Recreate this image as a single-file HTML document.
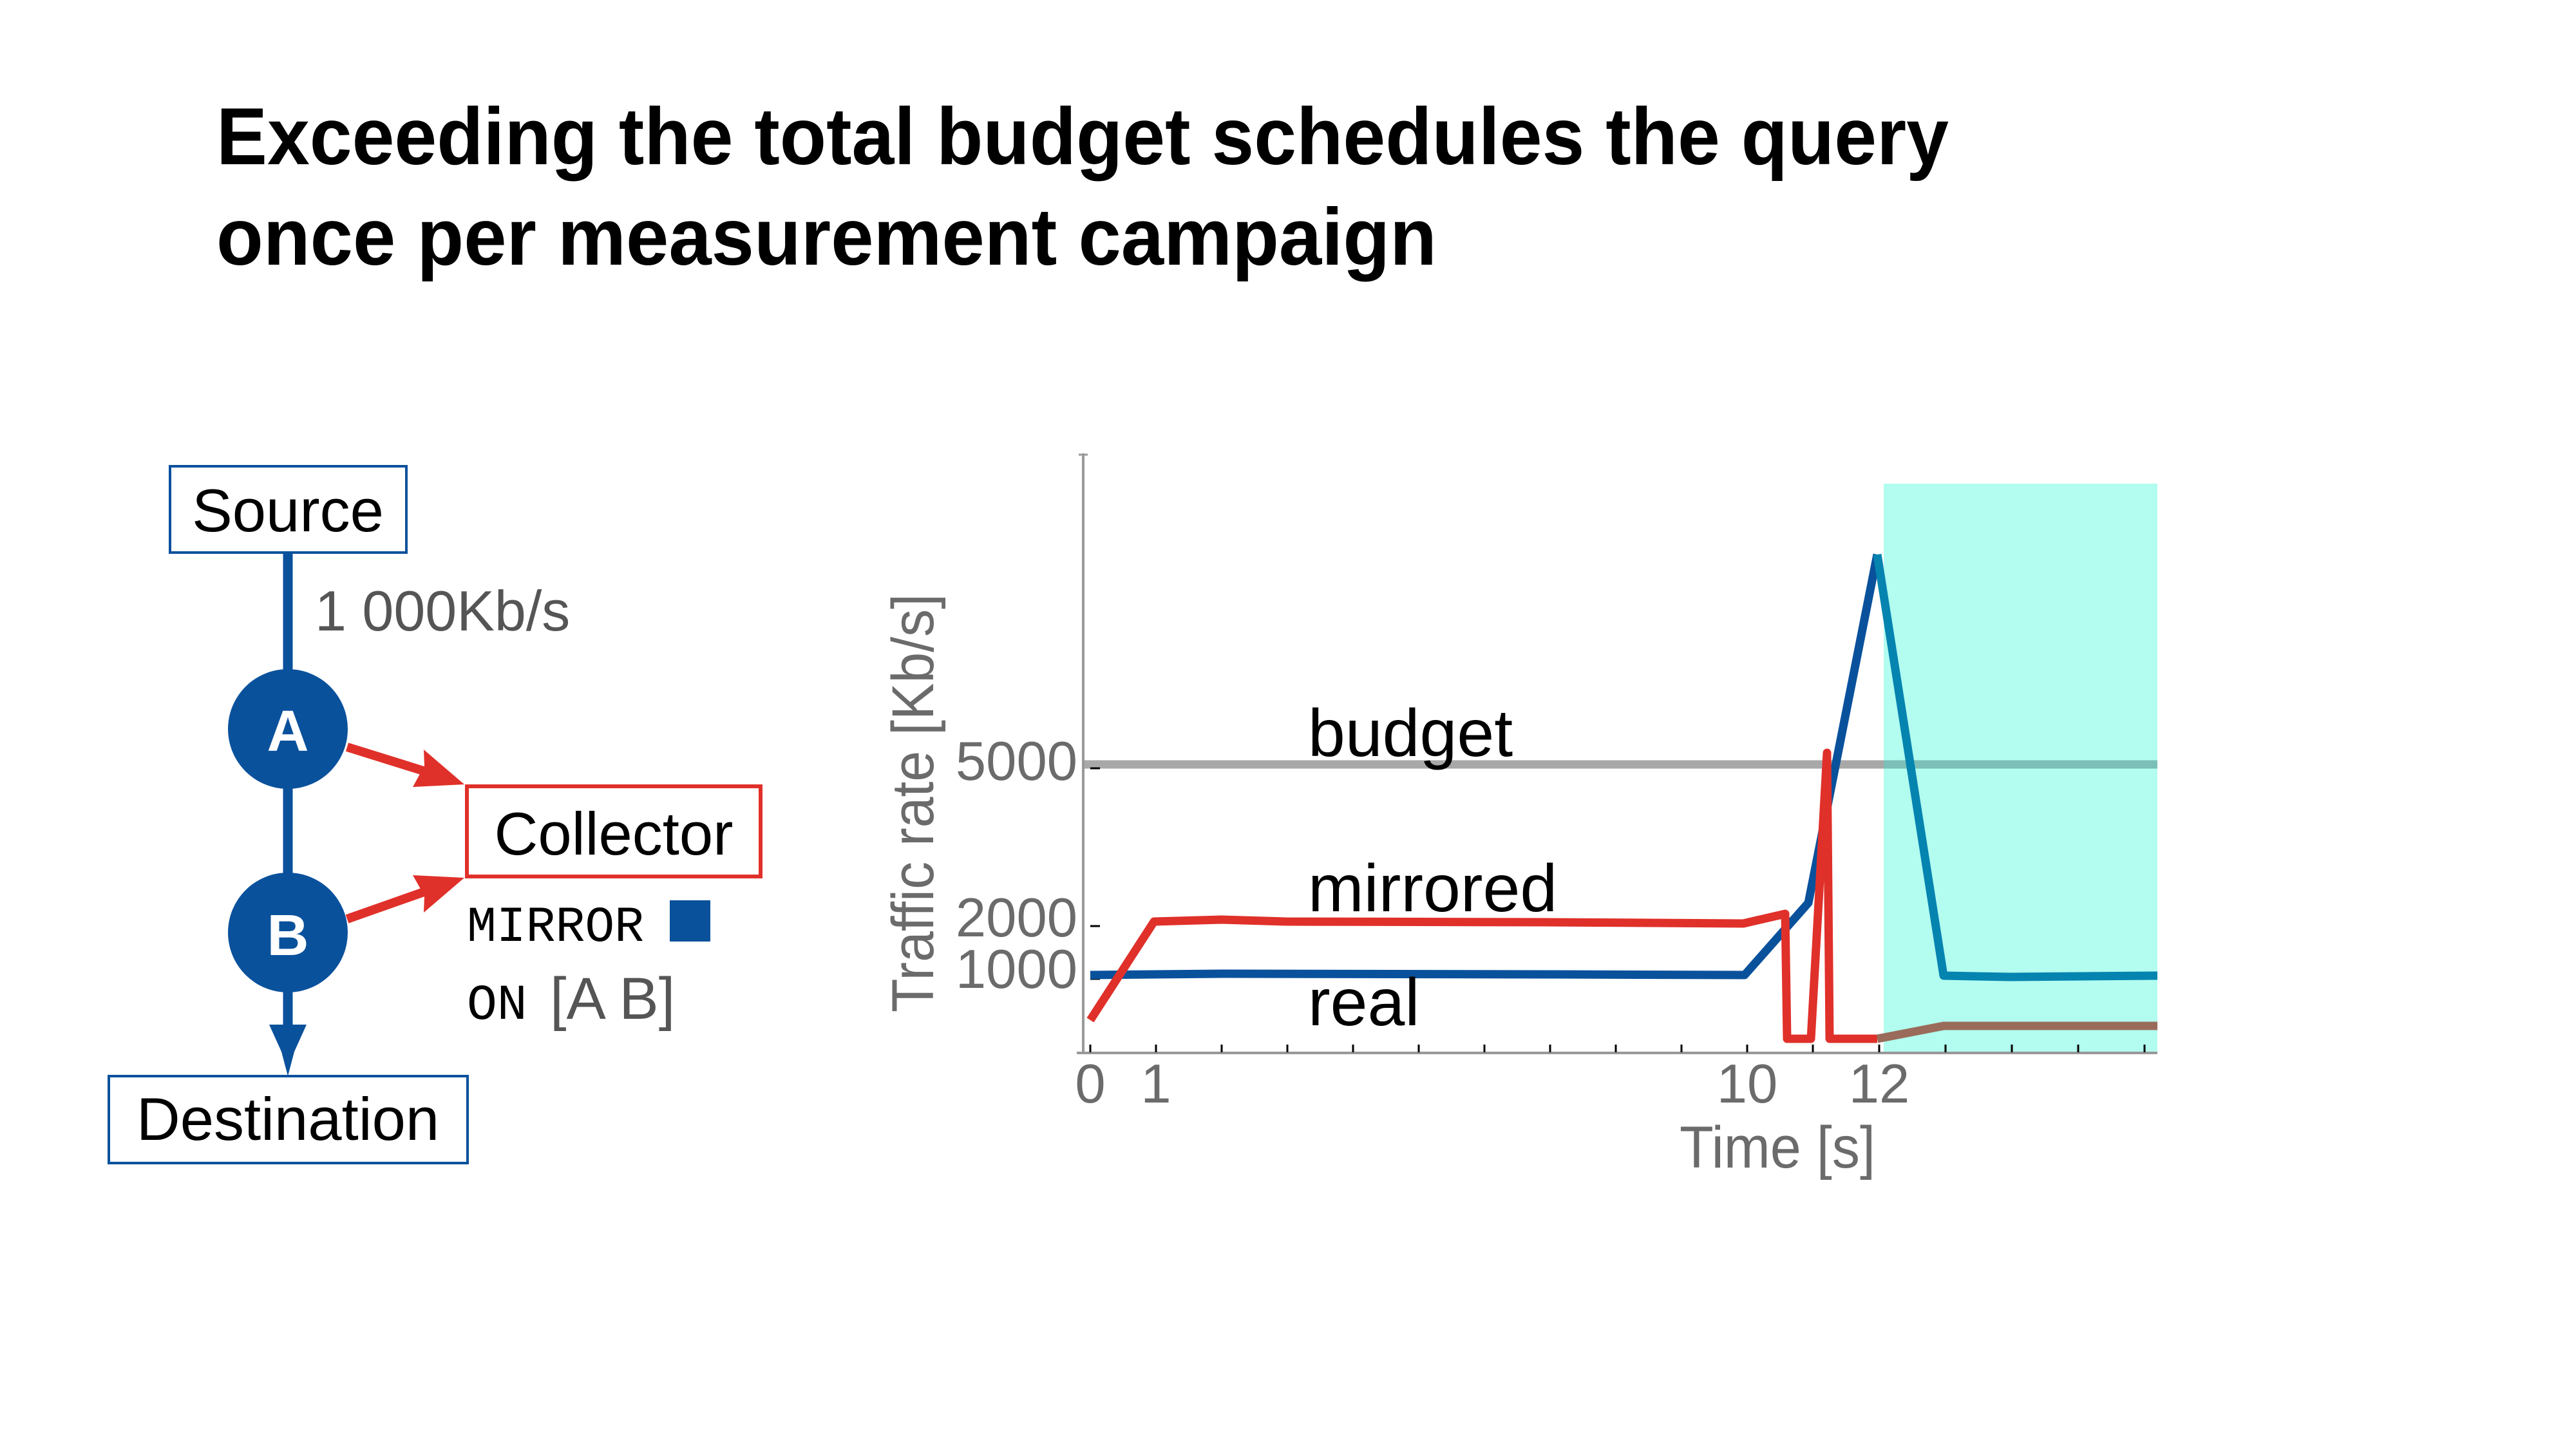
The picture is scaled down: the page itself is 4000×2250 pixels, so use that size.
<!DOCTYPE html>
<html><head><meta charset="utf-8"><style>
html,body{margin:0;padding:0;background:#fff;}
svg{display:block;}
text{font-family:"Liberation Sans",sans-serif;}
</style></head><body>
<svg width="4000" height="2250" viewBox="0 0 4000 2250" xmlns="http://www.w3.org/2000/svg">
<rect width="4000" height="2250" fill="#fff"/>
<!-- Title -->
<text x="336" y="255" font-size="125" font-weight="bold" fill="#000" textLength="2690" lengthAdjust="spacingAndGlyphs">Exceeding the total budget schedules the query</text>
<text x="336" y="411" font-size="125" font-weight="bold" fill="#000" textLength="1895" lengthAdjust="spacingAndGlyphs">once per measurement campaign</text>

<g transform="translate(-6,-7)">
<!-- Left diagram -->
<line x1="453" y1="865" x2="453" y2="1640" stroke="#0a519c" stroke-width="15"/>
<polygon points="424,1598 482,1598 463,1640 453,1678 443,1640" fill="#0a519c"/>
<rect x="270" y="731" width="367" height="134" fill="#fff" stroke="#0a519c" stroke-width="4"/>
<text x="453" y="832" font-size="94" text-anchor="middle" fill="#000">Source</text>
<text x="495" y="986" font-size="88" fill="#555">1 000Kb/s</text>
<circle cx="453" cy="1139" r="93" fill="#0a519c"/>
<text x="453" y="1173" font-size="90" font-weight="bold" text-anchor="middle" fill="#fff">A</text>
<circle cx="453" cy="1455" r="93" fill="#0a519c"/>
<text x="453" y="1490" font-size="90" font-weight="bold" text-anchor="middle" fill="#fff">B</text>
<line x1="545" y1="1167" x2="670" y2="1206" stroke="#e0302a" stroke-width="14"/>
<polygon points="727,1225 647,1229 665,1196 664,1171" fill="#e0302a"/>
<line x1="545" y1="1434" x2="670" y2="1390" stroke="#e0302a" stroke-width="14"/>
<polygon points="727,1370 647,1366 665,1398 664,1424" fill="#e0302a"/>
<rect x="731" y="1228" width="456" height="140" fill="#fff" stroke="#e0302a" stroke-width="6"/>
<text x="959" y="1334" font-size="94" text-anchor="middle" fill="#000">Collector</text>
<text x="731" y="1468" font-size="78" fill="#000" textLength="275" lengthAdjust="spacingAndGlyphs" style="font-family:'Liberation Mono',monospace">MIRROR</text>
<rect x="1046" y="1405" width="63" height="64" fill="#0a519c"/>
<text x="731" y="1589" font-size="78" fill="#000" style="font-family:'Liberation Mono',monospace">ON</text>
<text x="860" y="1589" font-size="92" fill="#555">[A B]</text>
<rect x="175" y="1678" width="557" height="135" fill="#fff" stroke="#0a519c" stroke-width="4"/>
<text x="453" y="1777" font-size="94" text-anchor="middle" fill="#000">Destination</text>
</g>

<!-- Chart -->
<g transform="translate(-3,-6)">
<rect x="2928" y="757" width="425" height="882" fill="#b2fcf0"/>
<line x1="1685" y1="1193" x2="2928" y2="1193" stroke="#a8a8a8" stroke-width="13"/>
<line x1="2928" y1="1193" x2="3353" y2="1193" stroke="#7bbfb8" stroke-width="13"/>
</g>
<!-- axes -->
<line x1="1682" y1="704" x2="1682" y2="1636" stroke="#999" stroke-width="4"/>
<line x1="1675" y1="706" x2="1689" y2="706" stroke="#999" stroke-width="3"/>
<line x1="1672" y1="1635" x2="3350" y2="1635" stroke="#999" stroke-width="4"/>
<g stroke="#000" stroke-width="3">
<line x1="1693" y1="1193" x2="1708" y2="1193"/>
<line x1="1693" y1="1438" x2="1708" y2="1438"/>
<line x1="1693" y1="1520" x2="1708" y2="1520"/>
<line x1="1693" y1="1622" x2="1693" y2="1634"/><line x1="1795" y1="1622" x2="1795" y2="1634"/><line x1="1897" y1="1622" x2="1897" y2="1634"/><line x1="1999" y1="1622" x2="1999" y2="1634"/><line x1="2101" y1="1622" x2="2101" y2="1634"/><line x1="2203" y1="1622" x2="2203" y2="1634"/><line x1="2305" y1="1622" x2="2305" y2="1634"/><line x1="2407" y1="1622" x2="2407" y2="1634"/><line x1="2509" y1="1622" x2="2509" y2="1634"/><line x1="2611" y1="1622" x2="2611" y2="1634"/><line x1="2713" y1="1622" x2="2713" y2="1634"/><line x1="2815" y1="1622" x2="2815" y2="1634"/><line x1="2918" y1="1622" x2="2918" y2="1634"/><line x1="3021" y1="1622" x2="3021" y2="1634"/><line x1="3124" y1="1622" x2="3124" y2="1634"/><line x1="3227" y1="1622" x2="3227" y2="1634"/><line x1="3330" y1="1622" x2="3330" y2="1634"/>
</g>
<!-- series -->
<g transform="translate(-3,-6)">
<polyline points="1696,1520 1795,1519 1900,1518 2400,1519 2712,1520 2811,1408 2918,867" fill="none" stroke="#0a519c" stroke-width="13" stroke-linejoin="round"/>
<polyline points="2918,867 3021,1521 3124,1523 3353,1521" fill="none" stroke="#0584b0" stroke-width="13" stroke-linejoin="round"/>
<polyline points="1696,1590 1795,1437 1900,1434 2000,1437 2400,1438 2710,1440 2775,1425 2778,1619 2815,1619 2840,1175 2844,1619 2918,1619" fill="none" stroke="#e0302a" stroke-width="13" stroke-linejoin="round"/>
<polyline points="2918,1619 3021,1599 3353,1599" fill="none" stroke="#9a6b5a" stroke-width="13" stroke-linejoin="round"/>
</g>
<!-- labels -->
<g fill="#6b6b6b" font-size="85" text-anchor="end">
<text x="1673" y="1211">5000</text>
<text x="1673" y="1454">2000</text>
<text x="1673" y="1534">1000</text>
</g>
<g fill="#6b6b6b" font-size="85" text-anchor="middle">
<text x="1693" y="1712">0</text>
<text x="1795" y="1712">1</text>
<text x="2713" y="1712">10</text>
<text x="2918" y="1712">12</text>
</g>
<text x="2608" y="1813" font-size="92" fill="#6b6b6b" textLength="304" lengthAdjust="spacingAndGlyphs">Time [s]</text>
<text transform="translate(1449,1572) rotate(-90)" font-size="92" fill="#6b6b6b" textLength="650" lengthAdjust="spacingAndGlyphs">Traffic rate [Kb/s]</text>
<g fill="#000" font-size="104">
<text x="2031" y="1174">budget</text>
<text x="2031" y="1415">mirrored</text>
<text x="2031" y="1592">real</text>
</g>
</svg>
</body></html>
